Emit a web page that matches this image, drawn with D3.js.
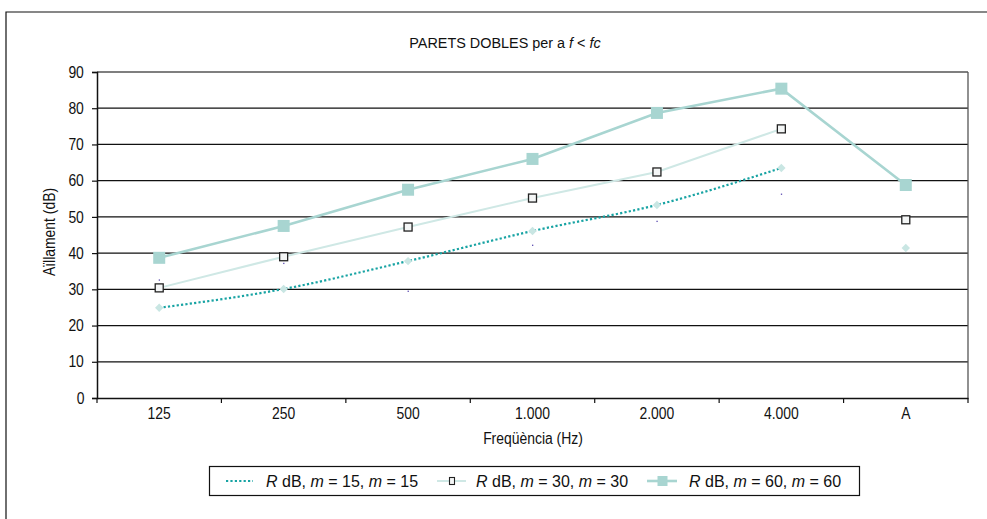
<!DOCTYPE html>
<html><head><meta charset="utf-8">
<script src="https://cdn.jsdelivr.net/npm/d3@7"></script>
<style>
body{margin:0;background:#fff;}
text{font-family:"Liberation Sans",Arial,sans-serif;fill:#111;}
.nar{transform-box:fill-box;transform-origin:center;transform:scaleX(0.87);}
</style></head>
<body><svg id="c" width="987" height="519"></svg>
<script>
const categories = ["125","250","500","1.000","2.000","4.000","A"];
const yTicks = [0,10,20,30,40,50,60,70,80,90];
const s15 = [24.9,30.1,37.8,46.1,53.3,63.5,41.4];
const s30 = [30.4,39.0,47.2,55.2,62.4,74.3,49.2];
const s60 = [38.7,47.5,57.5,66.0,78.7,85.4,58.8];
const stray = [32.6,37.2,29.5,42.2,48.8,56.3];
const seriesNames = ["15","30","60"];

const svg = d3.select("#c");
const L=97,R=968,T=72,B=398;
const x = d3.scaleBand().domain(categories).range([L,R]).padding(0);
const y = d3.scaleLinear().domain([0,90]).range([B,T]);
const cx = c => x(c)+x.bandwidth()/2;

// outer border
svg.append("path").attr("d","M6,519 V12 H987").attr("fill","none").attr("stroke","#111").attr("stroke-width",1.2);

// title
const title = svg.append("text").attr("class","nar").attr("x",505).attr("y",48).attr("text-anchor","middle").style("font-size","15.5px").style("transform","scaleX(0.93)");
title.append("tspan").text("PARETS DOBLES per a ");
title.append("tspan").style("font-style","italic").text("f");
title.append("tspan").text(" < ");
title.append("tspan").style("font-style","italic").text("fc");

// gridlines
svg.append("g").selectAll("line").data(yTicks.filter(d=>d>0)).join("line")
  .attr("x1",L).attr("x2",R).attr("y1",d=>y(d)).attr("y2",d=>y(d))
  .attr("stroke",d=>d===90?"#555":"#111").attr("stroke-width",1.3);
svg.append("line").attr("x1",R).attr("x2",R).attr("y1",T).attr("y2",B).attr("stroke","#555").attr("stroke-width",1.3);

// axes
const yAxis = svg.append("g").attr("transform",`translate(${L},0)`)
  .call(d3.axisLeft(y).tickValues(yTicks).tickSize(5).tickPadding(7).tickFormat(d3.format("d")));
yAxis.select(".domain").attr("stroke","#111").attr("stroke-width",1.5);
yAxis.selectAll(".tick line").attr("stroke","#111").attr("stroke-width",1.2);
yAxis.selectAll("text").attr("class","nar").style("font-size","16px").attr("fill","#111");

const xAxis = svg.append("g").attr("transform",`translate(0,${B})`)
  .call(d3.axisBottom(x).tickSize(0).tickPadding(10));
xAxis.select(".domain").attr("stroke","#111").attr("stroke-width",1.5);
xAxis.selectAll("text").attr("class","nar").style("font-size","16px").attr("fill","#111");
svg.append("g").selectAll("line").data(categories.concat(["end"])).join("line")
  .attr("x1",(d,i)=>i<categories.length?x(d):R).attr("x2",(d,i)=>i<categories.length?x(d):R)
  .attr("y1",B).attr("y2",B+5).attr("stroke","#111").attr("stroke-width",1.2);

svg.append("text").attr("class","nar").attr("x",533).attr("y",444).attr("text-anchor","middle").style("font-size","16px").text("Freqüència (Hz)");
svg.append("g").attr("transform","translate(55,232) rotate(-90)")
  .append("text").attr("class","nar").attr("text-anchor","middle").style("font-size","16px").text("Aïllament (dB)");

// series 15: dotted smooth line
const line15 = d3.line().x((d,i)=>cx(categories[i])).y(d=>y(d)).curve(d3.curveMonotoneX);
svg.append("path").attr("d",line15(s15.slice(0,6))).attr("fill","none")
  .attr("stroke","#17a3a3").attr("stroke-width",2.2).attr("stroke-dasharray","2.2,2.2");
svg.append("g").selectAll("path").data(s15).join("path")
  .attr("d",d3.symbol(d3.symbolDiamond2,45)())
  .attr("transform",(d,i)=>`translate(${cx(categories[i])},${y(d)})`)
  .attr("fill","#c9e6e3");

// series 30
const lineStr = d3.line().x((d,i)=>cx(categories[i])).y(d=>y(d));
svg.append("path").attr("d",lineStr(s30.slice(0,6))).attr("fill","none")
  .attr("stroke","#cfe8e5").attr("stroke-width",2);
svg.append("g").selectAll("rect").data(s30).join("rect")
  .attr("x",(d,i)=>cx(categories[i])-4).attr("y",d=>y(d)-4).attr("width",8).attr("height",8)
  .attr("fill","#f4f6f6").attr("stroke","#222").attr("stroke-width",1.3);

// series 60
svg.append("path").attr("d",lineStr(s60)).attr("fill","none")
  .attr("stroke","#a8d5d1").attr("stroke-width",2.6);
svg.append("g").selectAll("rect").data(s60).join("rect")
  .attr("x",(d,i)=>cx(categories[i])-6).attr("y",d=>y(d)-6).attr("width",12).attr("height",12)
  .attr("fill","#a8d5d1");

// stray tiny points
svg.append("g").selectAll("rect").data(stray).join("rect")
  .attr("x",(d,i)=>cx(categories[i])-0.5).attr("y",d=>y(d)-0.5).attr("width",1.3).attr("height",1.3)
  .attr("fill","#5b4bb0");

// legend
svg.append("rect").attr("x",209.5).attr("y",466.5).attr("width",650).attr("height",29)
  .attr("fill","#fff").attr("stroke","#111").attr("stroke-width",1.2);
const ly = 481;
const lg = svg.append("g");
function legText(xp, n){
  const t = lg.append("text").attr("x",xp).attr("y",ly+5.5).style("font-size","16px");
  t.append("tspan").style("font-style","italic").text("R");
  t.append("tspan").text(" dB, ");
  t.append("tspan").style("font-style","italic").text("m");
  t.append("tspan").text(" = "+n+", ");
  t.append("tspan").style("font-style","italic").text("m");
  t.append("tspan").text(" = "+n);
}
lg.append("line").attr("x1",226).attr("x2",253).attr("y1",ly).attr("y2",ly)
  .attr("stroke","#17a3a3").attr("stroke-width",2.2).attr("stroke-dasharray","2.2,2.2");
legText(266, seriesNames[0]);
lg.append("line").attr("x1",437).attr("x2",466).attr("y1",ly).attr("y2",ly).attr("stroke","#cfe8e5").attr("stroke-width",2);
lg.append("rect").attr("x",449.5).attr("y",ly-3.5).attr("width",5).attr("height",7).attr("fill","#f4f6f6").attr("stroke","#222").attr("stroke-width",1.1);
legText(476, seriesNames[1]);
lg.append("line").attr("x1",647).attr("x2",677).attr("y1",ly).attr("y2",ly).attr("stroke","#a8d5d1").attr("stroke-width",2.6);
lg.append("rect").attr("x",657.5).attr("y",ly-5).attr("width",10).attr("height",10).attr("fill","#a8d5d1");
legText(689, seriesNames[2]);
</script></body></html>
